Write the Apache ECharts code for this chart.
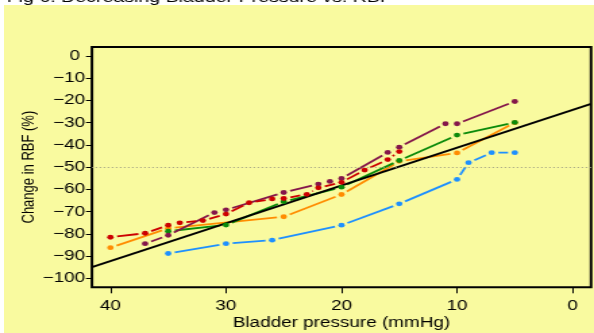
<!DOCTYPE html>
<html lang="en">
<head>
<meta charset="UTF-8">
<title>Bladder pressure vs RBF</title>
<script src="https://cdn.jsdelivr.net/npm/echarts@6/dist/echarts.min.js"></script>
<style>
    html, body { margin:0; padding:0; background:#fff; overflow:hidden; }
    #bg { position:absolute; left:4px; top:5px; width:590px; height:328px; background:#F9FA9F; }
    /* the original picture is stretched sideways, so draw narrow and stretch */
    #ec { position:absolute; left:0; top:0; width:440px; height:333px; transform:scaleX(1.35); transform-origin:0 0; }
</style>
</head>
<body>
<div id="bg"></div>
<div id="ec"></div>
<script>
    var xTicks = [0, 10, 20, 30, 40]
    var yTicks = [0, -10, -20, -30, -40, -50, -60, -70, -80, -90, -100]

    var blueX = [35, 30, 26, 20, 15, 10, 9, 7, 5]
    var blueY = [-88.8, -84.4, -82.8, -76.1, -66.5, -55.5, -48, -43.5, -43.5]

    var orangeX = [40, 35, 25, 20, 15, 10, 5]
    var orangeY = [-86.2, -77.5, -72.3, -62.3, -47.4, -43.6, -30]

    var greenX = [35, 30, 25, 20, 15, 10, 5]
    var greenY = [-78.8, -76, -65.5, -59, -47, -35.6, -29.9]

    var purpleX = [37, 35, 31, 30, 25, 22, 21, 20, 16, 15, 11, 10, 5]
    var purpleY = [-84.4, -80.6, -70.4, -69.2, -61.4, -57.6, -56.4, -55.1, -43.4, -41, -30.5, -30.5, -20.5]

    var redX = [40, 37, 35, 34, 32, 30, 28, 26, 25, 23, 22, 20, 18, 16, 15]
    var redY = [-81.5, -79.7, -76.1, -75, -74, -71.1, -66, -64.3, -64.1, -62.2, -59.3, -56.8, -51.3, -46.6, -43]

    // regression line, drawn across the whole plot
    var fitX = [-1.6, 41.6]
    var fitY = [-21.6, -94.9]

    var GAP = 5
    var font = 'Liberation Sans, Arial, sans-serif'

    function pairs(xs, ys) {
        return xs.map(function(x, i) { return [x, ys[i]] })
    }

    // lines like R type="b": segments stop short of each point
    function segs(xs, ys, color, z) {
        return {
            type:'custom',
            z:z,
            silent:true,
            clip:true,
            data:pairs(xs, ys),
            encode:{x:0, y:1},
            renderItem:function(params, api) {
                var i = params.dataIndex
                if (i >= xs.length - 1) return null
                var a = api.coord([xs[i], ys[i]])
                var b = api.coord([xs[i + 1], ys[i + 1]])
                var dx = b[0] - a[0], dy = b[1] - a[1]
                var len = Math.sqrt(dx * dx + dy * dy)
                if (len <= 2 * GAP) return null
                var ux = dx / len, uy = dy / len
                return {
                    type:'line',
                    shape:{x1:a[0] + ux * GAP, y1:a[1] + uy * GAP, x2:b[0] - ux * GAP, y2:b[1] - uy * GAP},
                    style:{stroke:color, lineWidth:1.8}
                }
            }
        }
    }

    function dots(xs, ys, color, z) {
        return {
            type:'scatter',
            z:z,
            silent:true,
            symbol:'circle',
            symbolSize:4.8,
            itemStyle:{color:color, opacity:1},
            data:pairs(xs, ys)
        }
    }

    var mychart = echarts.init(document.getElementById('ec'))
    var options = {
        animation:false,
        title:{
            text:'Fig 6: Decreasing Bladder Pressure vs. RBF',
            left:0,
            top:-15,
            textStyle:{fontSize:14.5, fontWeight:'normal', color:'#000', fontFamily:font}
        },
        grid:{
            left:68.1, right:2.2, top:47, bottom:45.7,
            containLabel:false,
            outerBoundsMode:'none',
            show:true, borderColor:'#000', borderWidth:2, backgroundColor:'transparent'
        },
        xAxis:{
            type:'value',
            inverse:true,
            min:-1.6,
            max:41.6,
            name:'Bladder pressure (mmHg)',
            nameLocation:'middle',
            nameGap:29,
            nameMoveOverlap:false,
            nameTextStyle:{fontSize:14, color:'#000', fontFamily:font},
            axisLine:{show:false, onZero:false},
            splitLine:{show:false},
            axisTick:{show:true, inside:false, length:6, customValues:xTicks, lineStyle:{color:'#000', width:1}},
            axisLabel:{customValues:xTicks, margin:12, fontSize:14, color:'#000', fontFamily:font}
        },
        yAxis:{
            type:'value',
            min:-104,
            max:4,
            name:'Change in RBF (%)',
            nameLocation:'middle',
            nameGap:40,
            nameMoveOverlap:false,
            nameTextStyle:{fontSize:13, color:'#000', fontFamily:font},
            axisLine:{show:false, onZero:false},
            splitLine:{show:false},
            axisTick:{show:true, inside:false, length:4.4, customValues:yTicks, lineStyle:{color:'#000', width:1}},
            axisLabel:{
                customValues:yTicks,
                margin:5,
                fontSize:14,
                color:'#000',
                fontFamily:font,
                formatter:function(v) {
                    if (v === 0) return '0 '
                    return String(v).replace('-', '\u2212')
                }
            }
        },
        series:[
            {
                type:'line',
                z:1,
                silent:true,
                data:[],
                markLine:{
                    silent:true,
                    symbol:'none',
                    label:{show:false},
                    lineStyle:{color:'#9a9a80', type:[1, 2], width:1},
                    data:[{yAxis:-50}]
                }
            },
            segs(blueX, blueY, '#1E90FF', 3),
            segs(orangeX, orangeY, '#FF8C00', 3),
            segs(greenX, greenY, '#0A8A0A', 3),
            segs(purpleX, purpleY, '#84164A', 3),
            segs(redX, redY, '#CC0000', 3),
            {
                type:'line',
                z:4,
                silent:true,
                showSymbol:false,
                data:pairs(fitX, fitY),
                lineStyle:{color:'#000', width:2}
            },
            dots(blueX, blueY, '#1E90FF', 5),
            dots(orangeX, orangeY, '#FF8C00', 5),
            dots(greenX, greenY, '#0A8A0A', 5),
            dots(purpleX, purpleY, '#84164A', 5),
            dots(redX, redY, '#CC0000', 5)
        ]
    }
    mychart.setOption(options)
</script>
</body>
</html>
